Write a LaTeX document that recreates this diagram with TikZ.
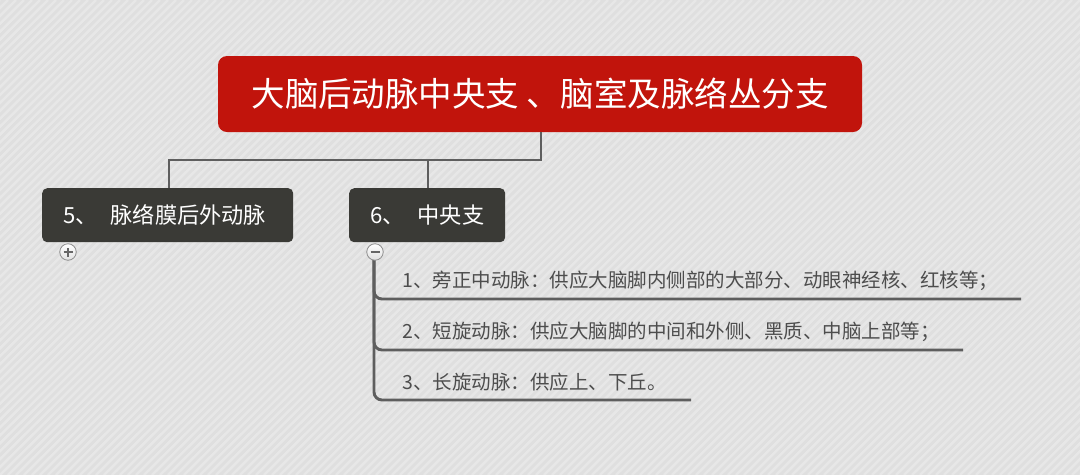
\documentclass[tikz,border=0pt]{standalone}
\usepackage{fontspec}
\setmainfont{Noto Sans CJK SC}
\definecolor{bg}{HTML}{DFDFDF}
\definecolor{titlered}{HTML}{C1140C}
\definecolor{darkbox}{HTML}{3A3A36}
\definecolor{linegray}{HTML}{5E5E5E}
\definecolor{txtgray}{HTML}{4D4D4D}
\definecolor{btngray}{HTML}{8C8C8C}
\begin{document}
\begin{tikzpicture}[x=1pt,y=-1pt,
  titlebox/.style={fill=titlered, rounded corners=9pt, minimum width=644pt, minimum height=76pt, inner sep=0pt, text=white, font=\fontsize{33.5}{38}\selectfont},
  topicbox/.style={fill=darkbox, rounded corners=5pt, minimum height=54pt, inner xsep=21pt, inner ysep=0pt, text=white, font=\fontsize{22.2}{26}\selectfont},
  conn/.style={draw=linegray, line width=2.9pt},
  leaf/.style={anchor=west, inner sep=0pt, text=txtgray, font=\fontsize{19.5}{23}\selectfont},
  btn/.style={circle, draw=btngray, line width=0.8pt, inner sep=0pt, minimum size=16.5pt, top color=white, bottom color=black!12},
  sym/.style={draw=black!60, line width=1.7pt}
]
\useasboundingbox (0,0) rectangle (1080,475);
\fill[bg] (0,0) rectangle (1080,475);
\begin{scope}
\clip (0,0) rectangle (1080,475);
\foreach \i in {0,8,...,1560} {
  \draw[white, opacity=0.28, line width=2.4pt] (\i-480,475) -- (\i,0);
}
\end{scope}

% title
\node[titlebox] (title) at (540,94) {大脑后动脉中央支 、脑室及脉络丛分支};

% topics
\node[topicbox, anchor=north west] (t5) at (42,188) {\makebox[209pt][l]{5、\hspace{13pt}脉络膜后外动脉}};
\node[topicbox, anchor=north west] (t6) at (349,188) {\makebox[114pt][l]{6、\hspace{13pt}中央支}};

% connectors
\coordinate (j) at (541,160);
\draw[conn] (title.south -| j) -- (j) -| (t5.north -| 169,0);
\draw[conn] (j) -| (t6.north -| 428,0);

% leaves
\node[leaf] (l1) at (402,281) {1、旁正中动脉：供应大脑脚内侧部的大部分、动眼神经核、红核等；};
\node[leaf] (l2) at (402,332) {2、短旋动脉：供应大脑脚的中间和外侧、黑质、中脑上部等；};
\node[leaf] (l3) at (402,382) {3、长旋动脉：供应上、下丘。};
\coordinate (m) at (374,252);
\coordinate (e1) at (1021,299);
\coordinate (e2) at (963,350);
\coordinate (e3) at (691,400);
\draw[conn, rounded corners=8pt] (m) |- (e1);
\draw[conn, rounded corners=8pt] (m) |- (e2);
\draw[conn, rounded corners=8pt] (m) |- (e3);

% buttons
\node[btn] (plus) at (68,252) {};
\draw[sym] ([xshift=-4.5pt]plus.center) -- ([xshift=4.5pt]plus.center);
\draw[sym] ([yshift=-4.5pt]plus.center) -- ([yshift=4.5pt]plus.center);
\node[btn] (minus) at (375,252) {};
\draw[sym] ([xshift=-4.5pt]minus.center) -- ([xshift=4.5pt]minus.center);
\end{tikzpicture}
\end{document}
